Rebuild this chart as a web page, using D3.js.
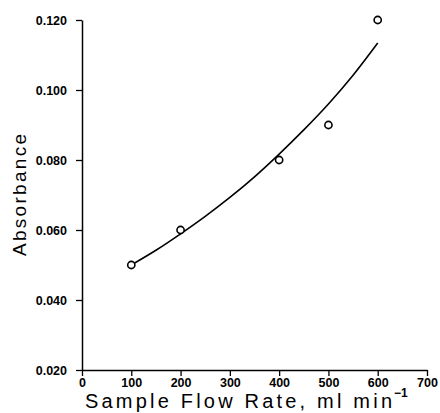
<!DOCTYPE html>
<html><head><meta charset="utf-8">
<script src="https://cdn.jsdelivr.net/npm/d3@7"></script>
<style>
html,body{margin:0;padding:0;background:#fff;}
svg{display:block;}
</style></head>
<body>
<svg id="c" width="440" height="413"></svg>
<script>
// Data
const flowRates = [100, 200, 400, 500, 600];
const absorbance = [0.050, 0.060, 0.080, 0.090, 0.120];
// Fitted curve
const fitFlow = [100, 150, 200, 250, 300, 350, 400, 450, 500, 550, 600];
const fitAbs  = [0.0500, 0.0542, 0.0589, 0.0639, 0.0693, 0.0752, 0.0817, 0.0886, 0.0960, 0.1042, 0.1134];
const xTicks = [0, 100, 200, 300, 400, 500, 600, 700];
const yTicks = [0.020, 0.040, 0.060, 0.080, 0.100, 0.120];

const svg = d3.select("#c");
const x = d3.scaleLinear().domain([0, 700]).range([82, 427]);
const y = d3.scaleLinear().domain([0.020, 0.120]).range([370, 20]);

const font = "'Liberation Sans', Arial, sans-serif";

// X axis
const xa = svg.append("g").attr("transform", "translate(0,370)")
  .call(d3.axisBottom(x).tickValues(xTicks).tickSize(6).tickSizeOuter(0).tickPadding(2).tickFormat(d3.format("d")));
xa.select(".domain").attr("stroke", "#000").attr("stroke-width", 1.5);
xa.selectAll(".tick line").attr("stroke", "#000").attr("stroke-width", 1.3);
xa.selectAll("text").attr("font-family", font).attr("font-size", 12.5).attr("font-weight", "bold").attr("fill", "#000");

// Y axis
const ya = svg.append("g").attr("transform", "translate(82,0)")
  .call(d3.axisLeft(y).tickValues(yTicks).tickSize(6).tickSizeOuter(0).tickPadding(9).tickFormat(d3.format(".3f")));
ya.select(".domain").attr("stroke", "#000").attr("stroke-width", 1.5);
ya.selectAll(".tick line").attr("stroke", "#000").attr("stroke-width", 1.3);
ya.selectAll("text").attr("font-family", font).attr("font-size", 12.5).attr("font-weight", "bold").attr("fill", "#000");

// Fit curve
const line = d3.line().x((d, i) => x(fitFlow[i])).y(d => y(d)).curve(d3.curveMonotoneX);
svg.append("path").attr("d", line(fitAbs)).attr("fill", "none").attr("stroke", "#000").attr("stroke-width", 1.6);

// Points
svg.selectAll("circle.pt").data(absorbance).enter().append("circle")
  .attr("class", "pt")
  .attr("cx", (d, i) => x(flowRates[i])).attr("cy", d => y(d)).attr("r", 3.6)
  .attr("fill", "#fff").attr("stroke", "#000").attr("stroke-width", 1.6);

// Axis titles
svg.append("text").attr("x", 85).attr("y", 408)
  .attr("font-family", font).attr("font-size", 20).attr("fill", "#000")
  .attr("textLength", 307).attr("lengthAdjust", "spacing")
  .text("Sample Flow Rate, ml min");
svg.append("text").attr("x", 394).attr("y", 397)
  .attr("font-family", font).attr("font-size", 12).attr("font-weight", "bold").attr("fill", "#000")
  .text("\u22121");

svg.append("text").attr("transform", "translate(26,195) rotate(-90)")
  .attr("text-anchor", "middle").attr("font-family", font).attr("font-size", 19).attr("fill", "#000")
  .attr("textLength", 122).attr("lengthAdjust", "spacing")
  .text("Absorbance");
</script>
</body></html>
